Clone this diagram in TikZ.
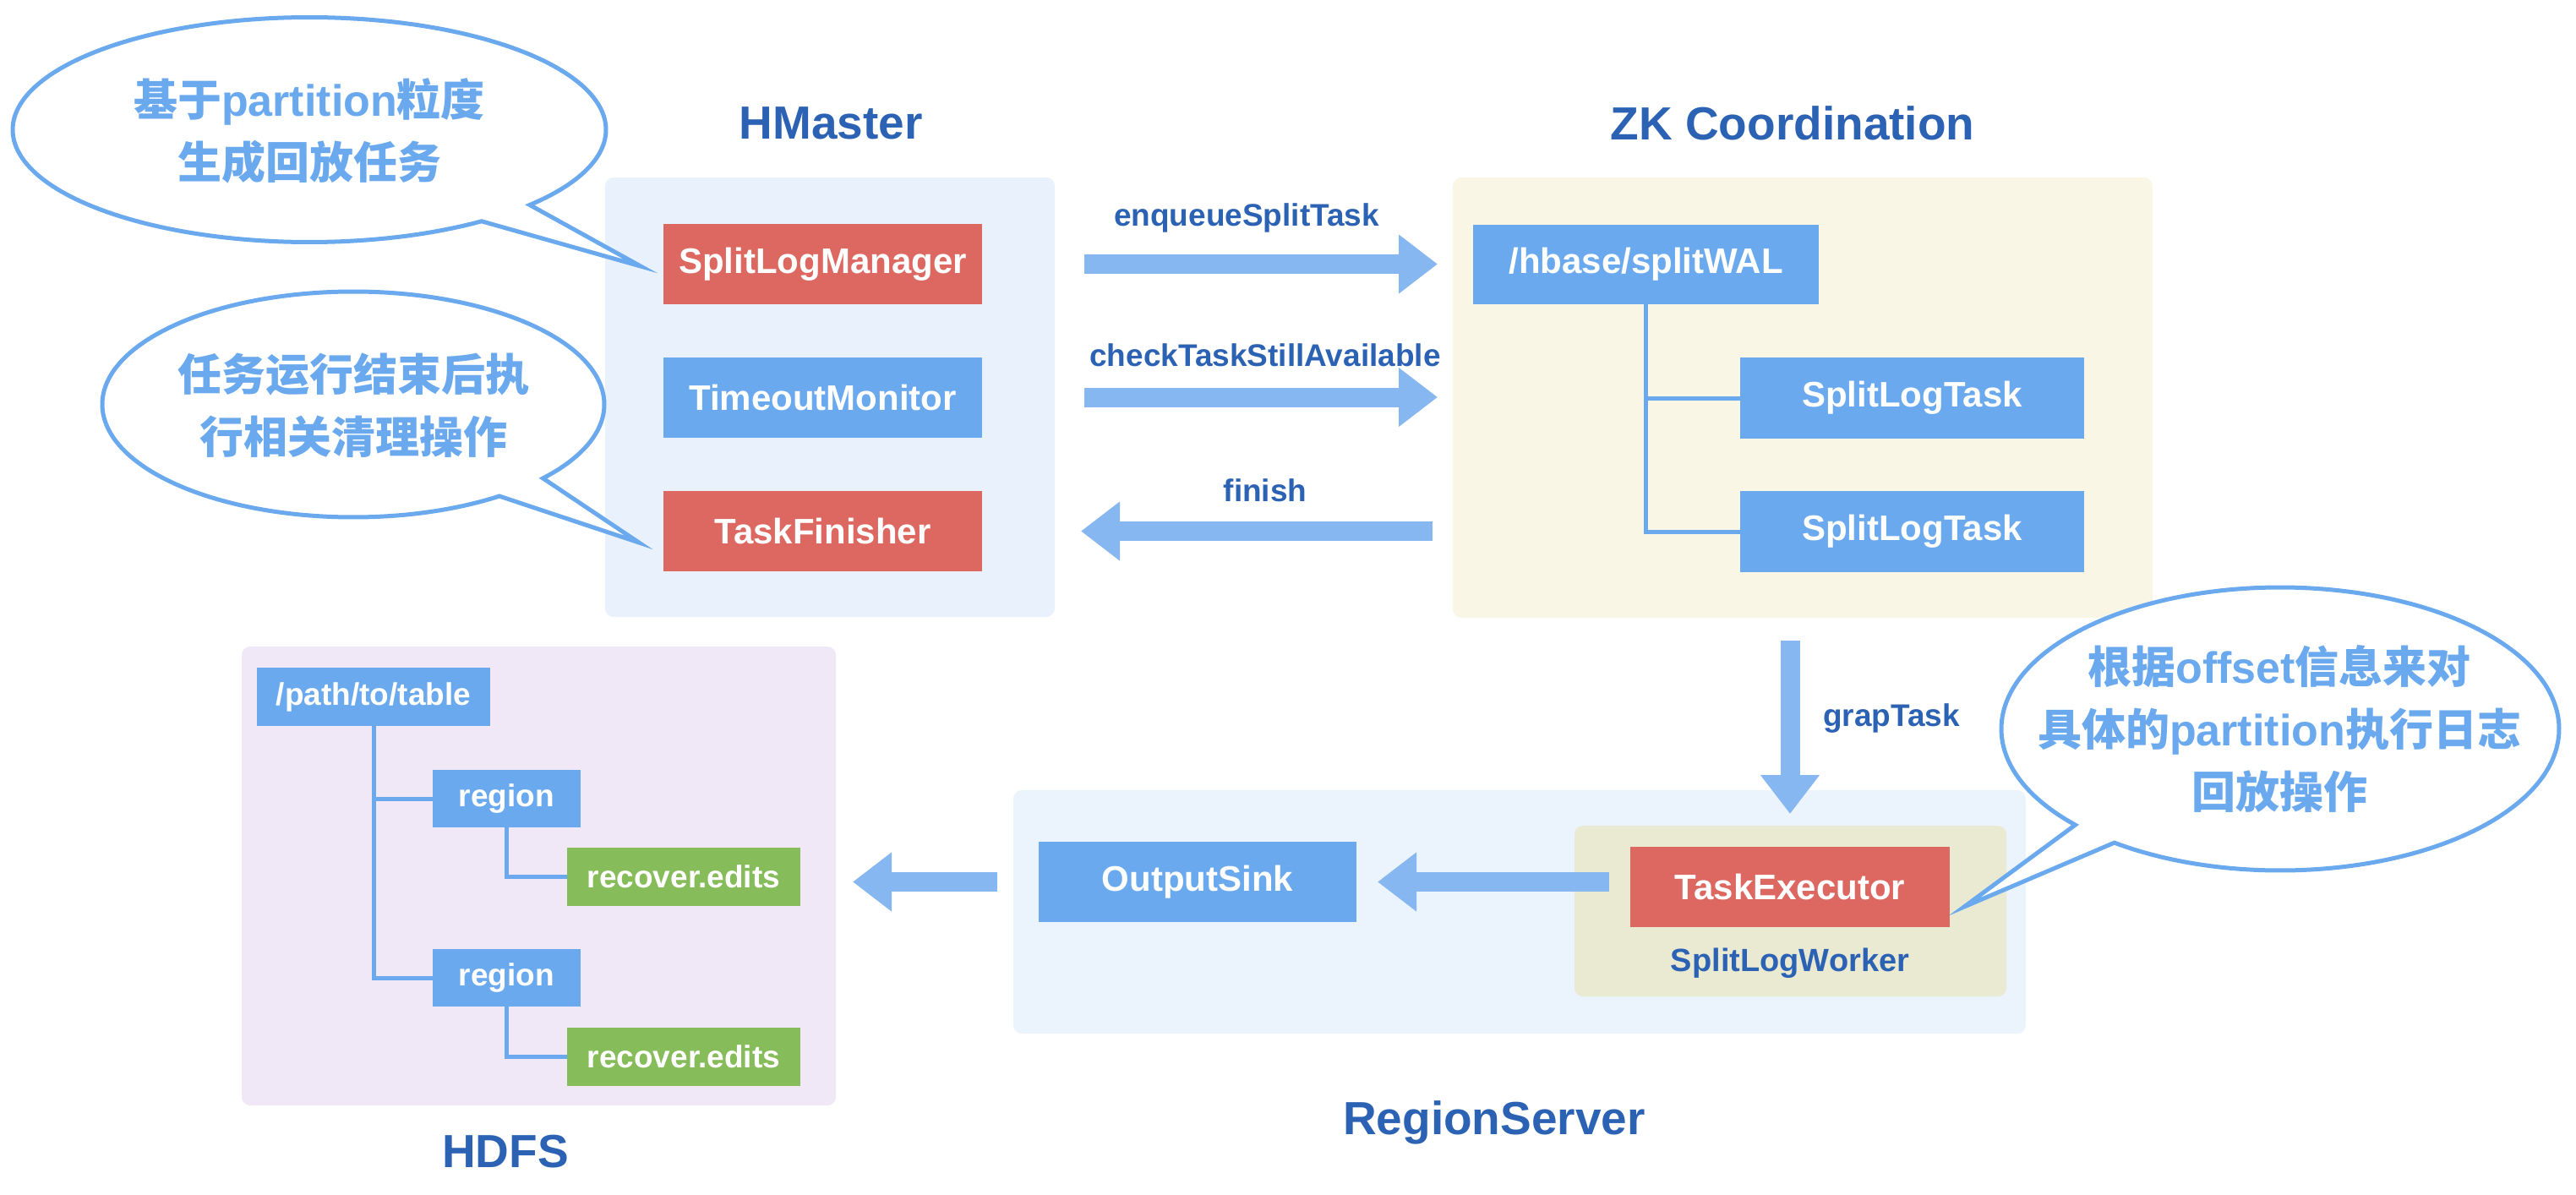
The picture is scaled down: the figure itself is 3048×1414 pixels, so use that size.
\documentclass[tikz,border=0pt]{standalone}
\usepackage{fontspec}
\setmainfont{Liberation Sans}
\newfontfamily\cjk{Noto Sans CJK SC}
\newfontfamily\lat{Liberation Sans}
\usetikzlibrary{arrows.meta}
\definecolor{boxred}{HTML}{DD6861}
\definecolor{boxblue}{HTML}{6AA9EE}
\definecolor{boxgreen}{HTML}{86BC5A}
\definecolor{bghm}{HTML}{E8F1FC}
\definecolor{bgrs}{HTML}{EBF3FD}
\definecolor{bgzk}{HTML}{FAF6E6}
\definecolor{bghdfs}{HTML}{F0E8F7}
\definecolor{bgworker}{HTML}{EAEAD3}
\definecolor{arrowblue}{HTML}{86B7F0}
\definecolor{titleblue}{HTML}{2C62B3}
\definecolor{bubbleblue}{HTML}{6AA9EE}
\begin{document}
\begin{tikzpicture}[x=0.5pt,y=-0.5pt,
  every node/.style={inner sep=0pt, outer sep=0pt},
  container/.style={fill=#1, rounded corners=5pt},
  box/.style={fill=#1, text=white, font=\bfseries\fontsize{21pt}{25pt}\selectfont},
  smallbox/.style={fill=#1, text=white, font=\bfseries\fontsize{18.5pt}{22pt}\selectfont},
  ttl/.style={text=titleblue, font=\bfseries\fontsize{27.5pt}{33pt}\selectfont},
  lbl/.style={text=titleblue, font=\bfseries\fontsize{18.5pt}{22pt}\selectfont},
  bigarrow/.style={draw=arrowblue, line width=11.5pt, -{Triangle[width=33.5pt,length=23pt]}},
  tree/.style={draw=boxblue, line width=2.5pt},
  bubble/.style={draw=bubbleblue, line width=2.5pt, fill=white, line join=miter},
  btext/.style={text=bubbleblue, align=center, font=\cjk\bfseries\fontsize{26pt}{37pt}\selectfont}
]
\useasboundingbox (0,0) rectangle (3048,1414);

% containers
\node[container=bghm, minimum width=266pt, minimum height=260pt] (hm) at (982,470) {};
\node[container=bgzk, minimum width=414pt, minimum height=260.5pt] (zk) at (2133,470.5) {};
\node[container=bghdfs, minimum width=351.5pt, minimum height=271.5pt] (hdfs) at (637.5,1036.5) {};
\node[container=bgrs, minimum width=599pt, minimum height=144pt] (rs) at (1798,1079) {};
\node[container=bgworker, minimum width=255.5pt, minimum height=101pt] (wk) at (2118.5,1078) {};

% titles
\node[ttl] (thm) at (983,146) {HMaster};
\node[ttl] (tzk) at (2121,146) {ZK Coordination};
\node[ttl] (trs) at (1768,1328) {RegionServer};
\node[ttl] (thdfs) at (598,1363) {HDFS};

% HMaster boxes
\node[box=boxred, minimum width=188.5pt, minimum height=47.5pt] (slm) at (973.5,312.5) {SplitLogManager};
\node[box=boxblue, minimum width=188.5pt, minimum height=47.5pt] (tom) at (973.5,470) {TimeoutMonitor};
\node[box=boxred, minimum width=188.5pt, minimum height=47.5pt] (tf) at (973.5,628.5) {TaskFinisher};

% ZK boxes
\node[box=boxblue, minimum width=204.5pt, minimum height=47pt] (wal) at (1947.5,313) {/hbase/splitWAL};
\node[box=boxblue, minimum width=203.5pt, minimum height=48pt] (slt1) at (2262.5,471) {SplitLogTask};
\node[box=boxblue, minimum width=203.5pt, minimum height=48pt] (slt2) at (2262.5,629) {SplitLogTask};
\draw[tree] (wal.south) |- (slt1.west);
\draw[tree] (wal.south) |- (slt2.west);

% HDFS boxes
\node[smallbox=boxblue, minimum width=138pt, minimum height=34.5pt] (pt) at (442,824.5) {/path/to/table};
\node[smallbox=boxblue, minimum width=87.5pt, minimum height=34pt] (r1) at (599.5,945) {region};
\node[smallbox=boxgreen, minimum width=138pt, minimum height=34.5pt] (re1) at (809,1037.5) {recover.edits};
\node[smallbox=boxblue, minimum width=87.5pt, minimum height=34pt] (r2) at (599.5,1157) {region};
\node[smallbox=boxgreen, minimum width=138pt, minimum height=34.5pt] (re2) at (809,1250.5) {recover.edits};
\draw[tree] (pt.south) |- (r1.west);
\draw[tree] (pt.south) |- (r2.west);
\draw[tree] (r1.south) |- (re1.west);
\draw[tree] (r2.south) |- (re2.west);

% RegionServer boxes
\node[box=boxblue, minimum width=188pt, minimum height=47.5pt] (os) at (1417,1043.5) {OutputSink};
\node[box=boxred, minimum width=189pt, minimum height=47.5pt] (te) at (2118,1049.5) {TaskExecutor};
\node[lbl, font=\bfseries\fontsize{19pt}{23pt}\selectfont] (wkl) at (2118,1140) {SplitLogWorker};

% arrows
\draw[bigarrow, shorten <=17.5pt, shorten >=9pt] (slm.east -| hm.east) -- (slm.east -| zk.west);
\draw[bigarrow, shorten <=17.5pt, shorten >=9pt] (tom.east -| hm.east) -- (tom.east -| zk.west);
\draw[bigarrow, shorten <=12pt, shorten >=15.5pt] (tf.east -| zk.west) -- (tf.east -| hm.east);
\draw[bigarrow, shorten <=13.5pt, shorten >=7pt] (te.north |- zk.south) -- (te.north |- wk.north);
\draw[bigarrow, shorten <=12.5pt, shorten >=12.5pt] (os.east -| te.west) -- (os.east);
\draw[bigarrow, shorten <=9.5pt, shorten >=10pt] (os.west -| rs.west) -- (os.west -| hdfs.east);

\node[lbl] (l1) at (1475,258) {enqueueSplitTask};
\node[lbl] (l2) at (1497,420) {checkTaskStillAvailable};
\node[lbl] (l3) at (1497,580) {finish};
\node[lbl] (l4) at (2238,850) {grapTask};

% bubbles
\draw[bubble] (366,153.5) ++(42:351 and 133) arc[start angle=42, end angle=-305.5, x radius=351, y radius=133] -- (758,315) -- cycle;
\draw[bubble] (418,478.5) ++(40.9:297 and 133.5) arc[start angle=40.9, end angle=-305.6, x radius=297, y radius=133.5] -- (756,642) -- cycle;
\draw[bubble] (2698,862.5) ++(137.3:330 and 167.5) arc[start angle=137.3, end angle=486.5, x radius=330, y radius=167.5] -- (2324,1073) -- cycle;

\node[btext] (b1) at (366,155) {基于{\lat partition}粒度\\生成回放任务};
\node[btext] (b2) at (418,480) {任务运行结束后执\\行相关清理操作};
\node[btext] (b3) at (2697,863) {根据{\lat offset}信息来对\\具体的{\lat partition}执行日志\\回放操作};
\end{tikzpicture}
\end{document}
